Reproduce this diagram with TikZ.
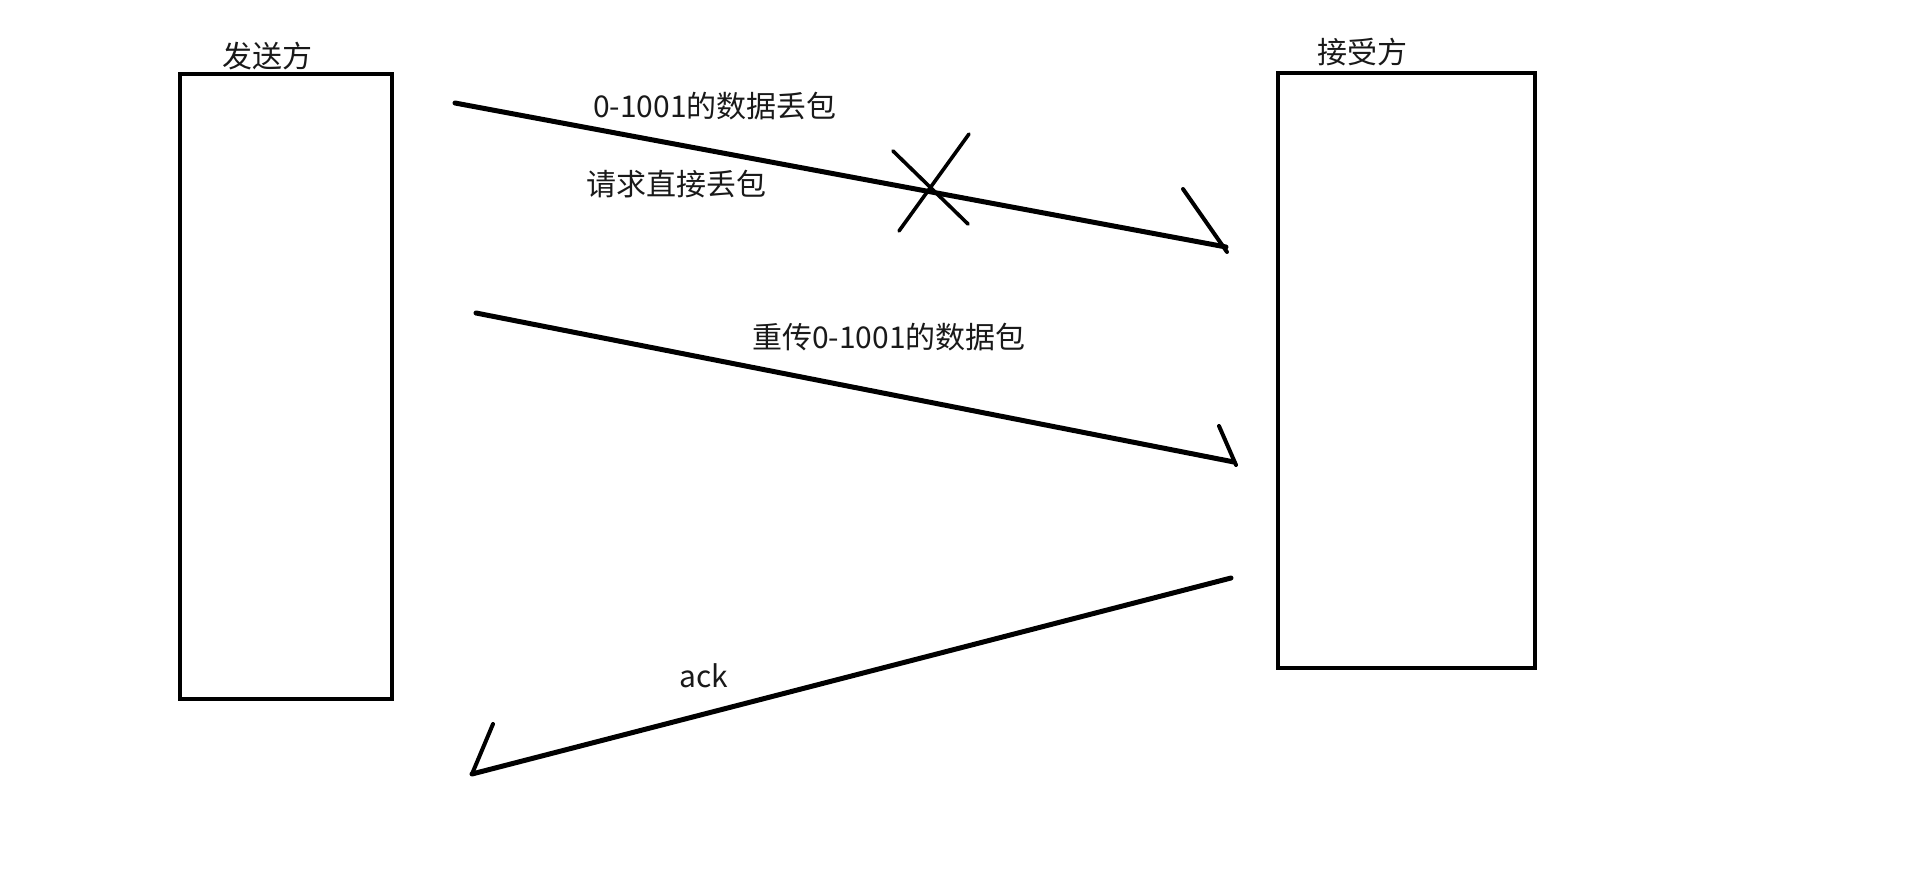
\documentclass[tikz,border=0pt]{standalone}
\usepackage{fontspec}
\setmainfont{Noto Sans CJK SC}
\begin{document}
\begin{tikzpicture}[x=1pt,y=-1pt,
  box/.style={draw, line width=4.8pt, minimum width=#1, inner sep=0pt},
  lbl/.style={font=\fontsize{30}{32}\selectfont, inner sep=0pt, text=black!90},
  msg/.style={line width=5pt, line cap=round},
  headtick/.style={line width=4pt, line cap=round},
  crossline/.style={line width=3.6pt, line cap=round}]
\useasboundingbox (0,0) rectangle (1907,878);
% boxes
\node[box=212pt, minimum height=625pt] (send) at (286,386.5) {};
\node[box=257pt, minimum height=595pt] (recv) at (1406.5,370.5) {};
\node[lbl] (sendl) at (267,56) {发送方};
\node[lbl] (recvl) at (1362,52) {接受方};
% arrow 1 (lost)
\coordinate (a1s) at (455,103);
\coordinate (a1e) at (1226,247);
\coordinate (a1t) at (1183,189);
\coordinate (a1te) at (1227,252);
\draw[msg] (a1s) -- (a1e);
\draw[headtick] (a1t) -- (a1te);
\coordinate (c1a) at (893,151);
\coordinate (c1b) at (968,224);
\coordinate (c2a) at (969,134);
\coordinate (c2b) at (899,231);
\draw[crossline] (c1a) -- (c1b);
\draw[crossline] (c2a) -- (c2b);
\node[lbl] (t1) at (715,106) {0-1001的数据丢包};
\node[lbl] (t2) at (676,184) {请求直接丢包};
% arrow 2 (resend)
\coordinate (a2s) at (476,313);
\coordinate (a2e) at (1234,462);
\coordinate (a2t) at (1219,426);
\coordinate (a2te) at (1236,465);
\draw[msg] (a2s) -- (a2e);
\draw[headtick] (a2t) -- (a2te);
\node[lbl] (t3) at (889,337) {重传0-1001的数据包};
% arrow 3 (ack)
\coordinate (a3s) at (1231,578);
\coordinate (a3e) at (472,774);
\coordinate (a3t) at (493,724);
\draw[msg] (a3s) -- (a3e);
\draw[headtick] (a3t) -- (a3e);
\node[lbl] (t4) at (704,676) {ack};
\end{tikzpicture}
\end{document}
